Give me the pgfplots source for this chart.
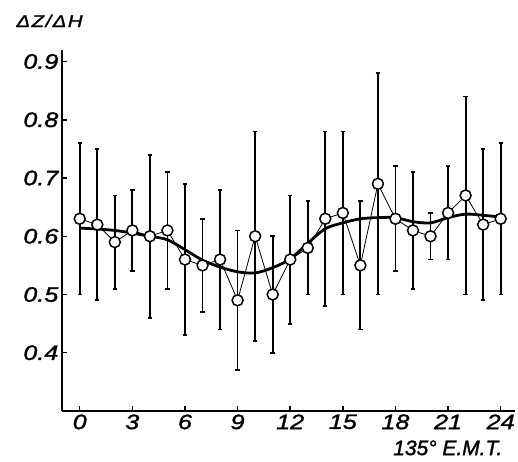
\documentclass[border=0pt]{standalone}
\usepackage{fontspec}
\setmainfont{Liberation Sans}
\newfontfamily\lab[FakeStretch=1.2, FakeBold=1.5]{Liberation Sans}
\newfontfamily\labn[FakeBold=1.5]{Liberation Sans}
\usepackage{pgfplots}
\pgfplotsset{compat=1.18}
\usepackage{pgfplotstable}

% hour, mean, top and bottom of the bar
\pgfplotstableread{
h   y     hi    lo
0   0.63  0.76  0.50
1   0.62  0.75  0.49
2   0.59  0.67  0.51
3   0.61  0.68  0.54
4   0.60  0.74  0.46
5   0.61  0.71  0.51
6   0.56  0.69  0.43
7   0.55  0.63  0.47
8   0.56  0.68  0.44
9   0.49  0.61  0.37
10  0.60  0.78  0.42
11  0.50  0.60  0.40
12  0.56  0.67  0.45
13  0.58  0.66  0.50
14  0.63  0.78  0.48
15  0.64  0.78  0.50
16  0.55  0.66  0.44
17  0.69  0.88  0.50
18  0.63  0.72  0.54
19  0.61  0.71  0.51
20  0.60  0.64  0.56
21  0.64  0.72  0.56
22  0.67  0.84  0.50
23  0.62  0.75  0.49
24  0.63  0.76  0.50
}\ratio

% smoothed curve
\pgfplotstableread{
h   y
0   0.614
2   0.610
4   0.600
5   0.594
6   0.577
7   0.559
8   0.547
9   0.539
10  0.537
11  0.546
12  0.561
13  0.588
14  0.613
15  0.623
16  0.630
17  0.632
18  0.632
19  0.625
20  0.623
21  0.632
22  0.638
23  0.636
24  0.633
}\smoothed

\begin{document}
\begin{tikzpicture}
\begin{axis}[
    scale only axis,
    width=454pt, height=362pt,
    xmin=-1.02, xmax=24.8,
    ymin=0.3, ymax=0.92,
    axis x line*=bottom, axis y line*=left,
    axis line style={line width=1.8pt, -},
    xtick={0,3,...,24},
    ytick={0.4,0.5,...,0.9},
    tick align=inside,
    major tick length=5pt,
    tick style={line width=1.5pt, black},
    tick label style={font=\fontsize{21}{21}\lab\itshape},
    /pgf/number format/assume math mode=true,
    yticklabel style={/pgf/number format/.cd, fixed, fixed zerofill, precision=1},
    clip=false,
]
\addplot[draw=none, mark=none, forget plot,
    error bars/.cd, y dir=both, y explicit,
    error bar style={line width=1.8pt, black},
    error mark options={rotate=90, mark size=2.2pt, line width=1.8pt, black}]
  table[x=h, y=y, y error plus expr=\thisrow{hi}-\thisrow{y},
        y error minus expr=\thisrow{y}-\thisrow{lo}] {\ratio};
\addplot[black, line width=0.8pt, mark=none] table[x=h, y=y] {\ratio};
\addplot[black, line width=2.8pt, smooth, tension=0.5, mark=none] table[x=h, y=y] {\smoothed};
\addplot[only marks, mark=*, mark size=5.5pt,
    mark options={fill=white, draw=black, line width=1.5pt}] table[x=h, y=y] {\ratio};
\node[anchor=west, font=\fontsize{17}{17}\lab\itshape]
  at (rel axis cs:0,1) [xshift=-49pt, yshift=29pt] {Δ\kern1.5ptZ\kern1.5pt/\kern1.5ptΔ\kern1.5ptH};
\node[anchor=east, font=\fontsize{21}{21}\labn\itshape]
  at (rel axis cs:1,0) [xshift=-9pt, yshift=-37pt] {135° E.M.T.};
\end{axis}
\path[use as bounding box] (-62pt,-51pt) rectangle (456pt,412pt);
\end{tikzpicture}
\end{document}
